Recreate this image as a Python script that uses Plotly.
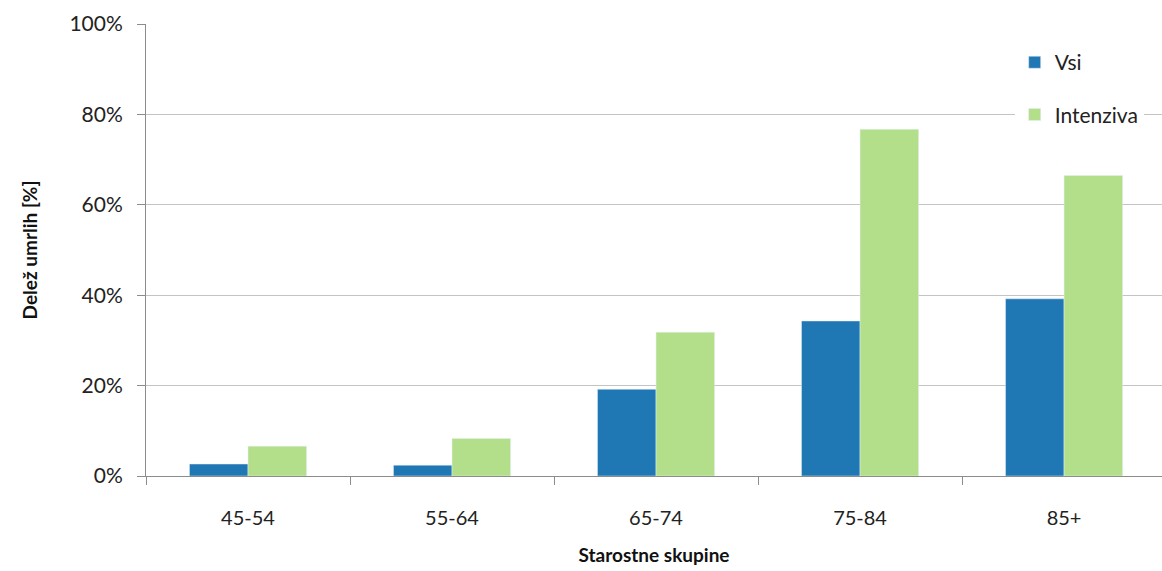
import plotly.graph_objects as go

categories = ["45-54", "55-64", "65-74", "75-84", "85+"]
vsi = [2.65, 2.4, 19.2, 34.3, 39.2]
intenziva = [6.6, 8.3, 31.8, 76.7, 66.5]
y_ticks = [0, 20, 40, 60, 80, 100]
y_tick_labels = ["0%", "20%", "40%", "60%", "80%", "100%"]

FONT = "Lato, 'Open Sans', sans-serif"

fig = go.Figure()
fig.add_trace(go.Bar(name="Vsi", x=categories, y=vsi, marker=dict(color="#1f77b4"),
                     legendgroup="a"))
fig.add_trace(go.Bar(name="Intenziva", x=categories, y=intenziva, marker=dict(color="#b3df8a"),
                     legendgroup="b"))

fig.update_layout(
    width=1162, height=571,
    margin=dict(l=146, r=0, t=24, b=95),
    paper_bgcolor="white", plot_bgcolor="white",
    barmode="group", bargap=0.426, bargroupgap=0,
    font=dict(family=FONT, size=20, color="#222"),
    legend=dict(x=0.855, y=0.96, xanchor="left", yanchor="top",
                bgcolor="white", font=dict(size=21, color="#222"),
                traceorder="grouped", tracegroupgap=22,
                itemwidth=30),
    xaxis=dict(
        range=[-0.5, 4.48],
        showline=True, linecolor="#8c8c8c", linewidth=1,
        ticks="outside", ticklen=8, tickcolor="#8c8c8c", tickson="boundaries",
        tickfont=dict(size=20, color="#222"),
        ticklabelstandoff=24,
        title=dict(text="<b>Starostne skupine</b>", font=dict(size=19, color="#111"), standoff=20),
        showgrid=False,
    ),
    yaxis=dict(
        range=[0, 100],
        tickvals=y_ticks, ticktext=y_tick_labels,
        showline=True, linecolor="#8c8c8c", linewidth=1,
        ticks="outside", ticklen=8, tickcolor="#8c8c8c",
        tickfont=dict(size=21, color="#222"),
        ticklabelstandoff=10,
        showgrid=True, gridcolor="#c4c4c4", gridwidth=1,
        title=dict(text="<b>Delež umrlih [%]</b>", font=dict(size=19, color="#111"), standoff=26),
        zeroline=False,
    ),
)

fig.write_html("out.html")
